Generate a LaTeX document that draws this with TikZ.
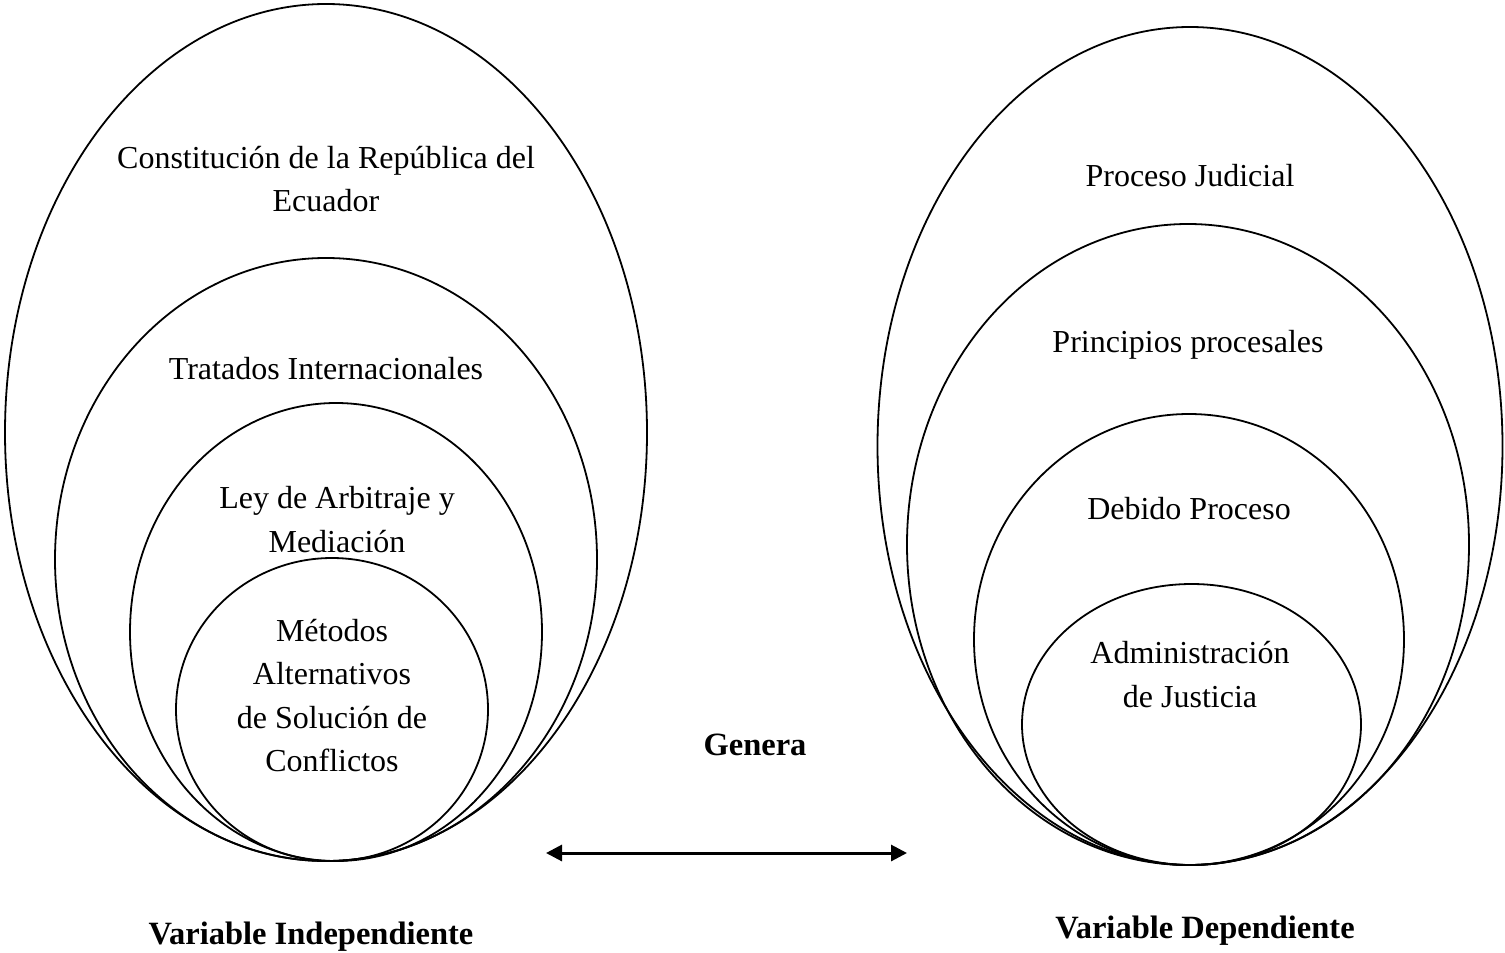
\documentclass[tikz,border=0pt]{standalone}
\usepackage{fontspec}
\setmainfont{Liberation Serif}
\usetikzlibrary{arrows.meta}
\tikzset{
  ring/.style={draw=black, line width=1.8pt},
  lbl/.style={align=center, inner sep=0pt, font=\fontsize{32}{43.5}\selectfont},
  blbl/.style={align=center, inner sep=0pt, font=\fontsize{32.5}{43.5}\selectfont\bfseries},
  link/.style={line width=3pt, {Triangle[length=16pt,width=16pt]}-{Triangle[length=16pt,width=16pt]}}
}
\begin{document}
\begin{tikzpicture}[x=1pt,y=-1pt]
\useasboundingbox (0,0) rectangle (1505,953);
% left ellipses
\draw[ring] (326,432.5) ellipse [x radius=321, y radius=428.5];
\draw[ring] (326,559.5) ellipse [x radius=271, y radius=301.5];
\draw[ring] (336,632) ellipse [x radius=206, y radius=229];
\draw[ring] (332,709.5) ellipse [x radius=156, y radius=151.5];
% right ellipses
\draw[ring] (1190,446) ellipse [x radius=312.5, y radius=419];
\draw[ring] (1188,544.5) ellipse [x radius=281, y radius=320.5];
\draw[ring] (1189,639.5) ellipse [x radius=215, y radius=225.5];
\draw[ring] (1191.5,724.5) ellipse [x radius=169.5, y radius=140.5];
% texts left
\node[lbl] (constitucion) at (326,179) {Constitución de la República del\\Ecuador};
\node[lbl] (tratados) at (326,369) {Tratados Internacionales};
\node[lbl] (ley) at (337,519.5) {Ley de Arbitraje y\\Mediación};
\node[lbl] (metodos) at (332,695.5) {Métodos\\Alternativos\\de Solución de\\Conflictos};
% texts right
\node[lbl] (proceso) at (1190,176) {Proceso Judicial};
\node[lbl] (principios) at (1188,345) {Principios procesales};
\node[lbl] (debido) at (1189,509) {Debido Proceso};
\node[lbl] (admin) at (1190,674.5) {Administración\\de Justicia};
% middle
\node[blbl] (genera) at (755,745) {Genera};
\coordinate (aL) at (546,853);
\coordinate (aR) at (907,853);
\draw[link] (aL) -- (aR);
\node[blbl] (vi) at (311,937) {Variable Independiente};
\node[blbl] (vd) at (1205,931) {Variable Dependiente};
\end{tikzpicture}
\end{document}
